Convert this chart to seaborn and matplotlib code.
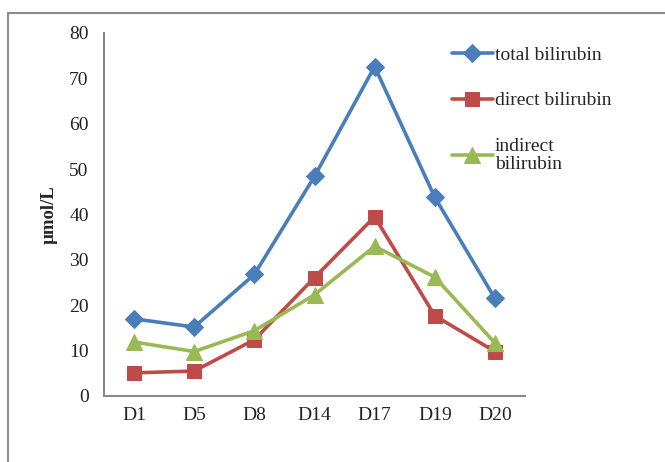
import matplotlib
matplotlib.use("Agg")
import matplotlib.pyplot as plt
import pandas as pd
import seaborn as sns
from matplotlib.patches import Rectangle
from matplotlib.ticker import FixedLocator, NullFormatter

days = ["D1", "D5", "D8", "D14", "D17", "D19", "D20"]
total = [17.0, 15.2, 26.8, 48.4, 72.6, 43.8, 21.5]
direct = [5.1, 5.5, 12.4, 26.1, 39.5, 17.7, 9.8]
indirect = [11.9, 9.8, 14.4, 22.3, 33.0, 26.2, 11.7]

names = ["total bilirubin", "direct bilirubin", "indirect\nbilirubin"]
colors = ["#4A7EBB", "#BE4B48", "#98B954"]
marks = ["D", "s", "^"]
msize = [9, 10, 11]

df = pd.DataFrame({"day": days, names[0]: total, names[1]: direct, names[2]: indirect})
long = df.melt(id_vars="day", var_name="series", value_name="val")

sns.set_style("white")
plt.rcParams["font.family"] = ["Liberation Serif", "DejaVu Serif"]

fig = plt.figure(figsize=(6.65, 4.62), dpi=100)
ax = fig.add_axes([104/665, 1-396/462, (525-104)/665, (396-33)/462])

for n, c, m, s in zip(names, colors, marks, msize):
    sub = long[long.series == n]
    sns.lineplot(data=sub, x="day", y="val", ax=ax, color=c, marker=m,
                 markersize=s, markeredgecolor=c, linewidth=2.6, label=n)

ax.set_xlim(-0.5, 6.5)
ax.set_ylim(0, 80)
ax.set_yticks(range(0, 81, 10))
ax.xaxis.set_minor_locator(FixedLocator([i - 0.5 for i in range(8)]))
ax.xaxis.set_minor_formatter(NullFormatter())
ax.tick_params(axis="x", which="major", length=0, pad=8, labelsize=14, colors="#222222")
ax.tick_params(axis="x", which="minor", length=5, color="#888888", width=1)
ax.tick_params(axis="y", length=6, color="#888888", width=1, labelsize=14, labelcolor="#222222", pad=5)
for sp in ["top", "right"]:
    ax.spines[sp].set_visible(False)
for sp in ["left", "bottom"]:
    ax.spines[sp].set_color("#888888")
    ax.spines[sp].set_linewidth(1.5)
ax.set_xlabel("")
ax.set_ylabel("µmol/L", fontsize=13.5, fontweight="bold", labelpad=8)

leg = ax.legend(loc="upper left", bbox_to_anchor=(452/665, 1-46/462), bbox_transform=fig.transFigure,
                frameon=False, fontsize=14, handlelength=2.1, handletextpad=0.1,
                labelspacing=1.45, borderaxespad=0, borderpad=0)
leg.get_texts()[2].set_linespacing(1.1)

fig.patches.append(Rectangle((8/665, -0.1), 1.2, 1 - 13/462 + 0.1, transform=fig.transFigure,
                             fill=False, edgecolor="#8c8c8c", linewidth=1.5))

fig.savefig("out.png", dpi=100)
